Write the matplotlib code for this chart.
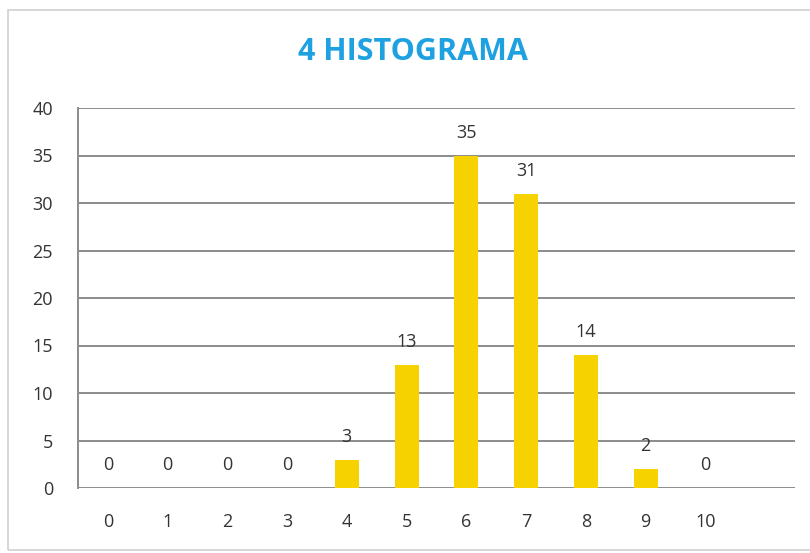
import matplotlib.pyplot as plt
from matplotlib.patches import Rectangle

# data
categories = ["0", "1", "2", "3", "4", "5", "6", "7", "8", "9", "10", ""]
counts = [0, 0, 0, 0, 3, 13, 35, 31, 14, 2, 0, None]
y_ticks = [0, 5, 10, 15, 20, 25, 30, 35, 40]
title = "4 HISTOGRAMA"

bar_color = "#F5D200"
grid_color = "#8C8C8C"
text_color = "#333333"

plt.rcParams["font.family"] = ["Open Sans", "DejaVu Sans"]

fig = plt.figure(figsize=(8.1, 5.53), dpi=100)
fig.patches.append(Rectangle((8 / 810, 3 / 553), 1.0, 540 / 553,
                             transform=fig.transFigure, fill=False,
                             edgecolor="#D0D0D0", linewidth=1.2))

ax = fig.add_axes([78 / 810, 1 - 488 / 553, (795 - 78) / 810, (488 - 108) / 553])

xs = list(range(len(categories)))
vals = [v if v is not None else 0 for v in counts]
ax.bar(xs, vals, width=0.4, color=bar_color, zorder=3)
for x, v in zip(xs, counts):
    if v is None:
        continue
    ax.annotate(str(v), (x, v), xytext=(0, 10), textcoords="offset points",
                ha="center", va="bottom", fontsize=13, color=text_color)

ax.set_xlim(-0.5, len(categories) - 0.5)
ax.set_ylim(0, 40)
ax.set_yticks(y_ticks)
ax.set_xticks(xs)
ax.set_xticklabels(categories)
ax.yaxis.grid(True, color=grid_color, linewidth=1.4, zorder=0)
ax.tick_params(length=0, labelsize=13, colors=text_color)
ax.tick_params(axis="x", pad=18)
ax.tick_params(axis="y", pad=18)
for side in ["top", "right", "bottom"]:
    ax.spines[side].set_visible(False)
ax.spines["left"].set_color(grid_color)
ax.spines["left"].set_linewidth(1.4)

fig.text(413 / 810, 1 - 52 / 553, title, ha="center", va="center",
         fontsize=22, fontweight="bold", color="#1DA1E0")

fig.savefig("out.png", dpi=100)
